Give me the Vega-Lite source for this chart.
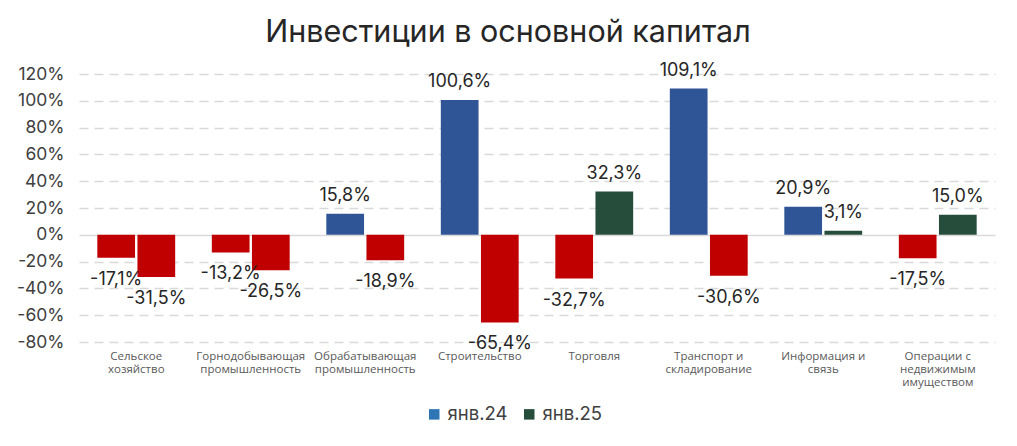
{
  "$schema": "https://vega.github.io/schema/vega-lite/v6.json",
  "width": 916,
  "height": 268,
  "autosize": {"type": "none"},
  "padding": {"left": 79, "top": 74, "right": 22, "bottom": 104},
  "title": {"text": "Инвестиции в основной капитал", "fontSize": 30.5, "font": "Inter", "fontWeight": "normal", "color": "#262626", "dx": -29, "offset": 13, "anchor": "middle"},
  "config": {
    "locale": {"number": {"decimal": ",", "thousands": " ", "grouping": [3], "currency": ["", ""], "minus": "-"}},
    "view": {"stroke": null},
    "font": "Inter"
  },
  "data": {"values": [
    {"category": "Сельское хозяйство", "series": "янв.24", "value": -0.171},
    {"category": "Сельское хозяйство", "series": "янв.25", "value": -0.315},
    {"category": "Горнодобывающая промышленность", "series": "янв.24", "value": -0.132},
    {"category": "Горнодобывающая промышленность", "series": "янв.25", "value": -0.265},
    {"category": "Обрабатывающая промышленность", "series": "янв.24", "value": 0.158},
    {"category": "Обрабатывающая промышленность", "series": "янв.25", "value": -0.189},
    {"category": "Строительство", "series": "янв.24", "value": 1.006},
    {"category": "Строительство", "series": "янв.25", "value": -0.654},
    {"category": "Торговля", "series": "янв.24", "value": -0.327},
    {"category": "Торговля", "series": "янв.25", "value": 0.323},
    {"category": "Транспорт и складирование", "series": "янв.24", "value": 1.091},
    {"category": "Транспорт и складирование", "series": "янв.25", "value": -0.306},
    {"category": "Информация и связь", "series": "янв.24", "value": 0.209},
    {"category": "Информация и связь", "series": "янв.25", "value": 0.031},
    {"category": "Операции с недвижимым имуществом", "series": "янв.24", "value": -0.175},
    {"category": "Операции с недвижимым имуществом", "series": "янв.25", "value": 0.15}
  ]},
  "encoding": {
    "x": {
      "field": "category", "type": "nominal", "sort": null,
      "scale": {"paddingInner": 0.32, "paddingOuter": 0.16},
      "axis": {
        "title": null, "domain": false, "ticks": false, "labelAngle": 0,
        "labelFont": "Open Sans",
        "labelFontSize": 11.5, "labelColor": "#595959", "labelPadding": 8,
        "labelLineHeight": 13, "labelLimit": 200, "labelBaseline": "top",
        "labelExpr": "split(replace(replace(replace(datum.label, regexp(' ', 'g'), '|'), '|и|', ' и|'), '|с|', ' с|'), '|')"
      }
    },
    "xOffset": {"field": "series", "type": "nominal", "scale": {"paddingInner": 0.06}},
    "y": {
      "field": "value", "type": "quantitative",
      "scale": {"domain": [-0.8, 1.2], "nice": false},
      "axis": {
        "title": null, "domain": false, "ticks": false,
        "values": [-0.8, -0.6, -0.4, -0.2, 0, 0.2, 0.4, 0.6, 0.8, 1.0, 1.2],
        "format": ".0%", "labelFontSize": 17.5, "labelColor": "#404040", "labelPadding": 15,
        "gridColor": "#D9D9D9", "gridWidth": 1.5,
        "gridDash": {"condition": {"test": "datum.value === 0", "value": []}, "value": [9, 6]}
      }
    }
  },
  "layer": [
    {
      "mark": {"type": "bar"},
      "encoding": {
        "color": {
          "condition": [
            {"test": "datum.value < 0", "value": "#C00000"},
            {"test": "datum.series === 'янв.24'", "value": "#2F5597"}
          ],
          "field": "series", "type": "nominal",
          "scale": {"domain": ["янв.24", "янв.25"], "range": ["#2E75B6", "#264D3C"]},
          "legend": {
            "orient": "none", "legendX": 346, "legendY": 331, "direction": "horizontal",
            "title": null, "symbolType": "square", "symbolSize": 110, "symbolStrokeWidth": 0,
            "labelFontSize": 18.5, "labelColor": "#404040", "columnPadding": 12, "labelOffset": 4
          }
        }
      }
    },
    {
      "transform": [{"filter": "datum.value >= 0"}],
      "mark": {"type": "text", "baseline": "alphabetic", "dy": -13, "fontSize": 18, "color": "#262626"},
      "encoding": {"text": {"field": "value", "type": "quantitative", "format": ".1%"}}
    },
    {
      "transform": [{"filter": "datum.value < 0"}],
      "mark": {"type": "text", "baseline": "top", "dy": 13, "fontSize": 18, "color": "#262626"},
      "encoding": {"text": {"field": "value", "type": "quantitative", "format": ".1%"}}
    }
  ]
}
